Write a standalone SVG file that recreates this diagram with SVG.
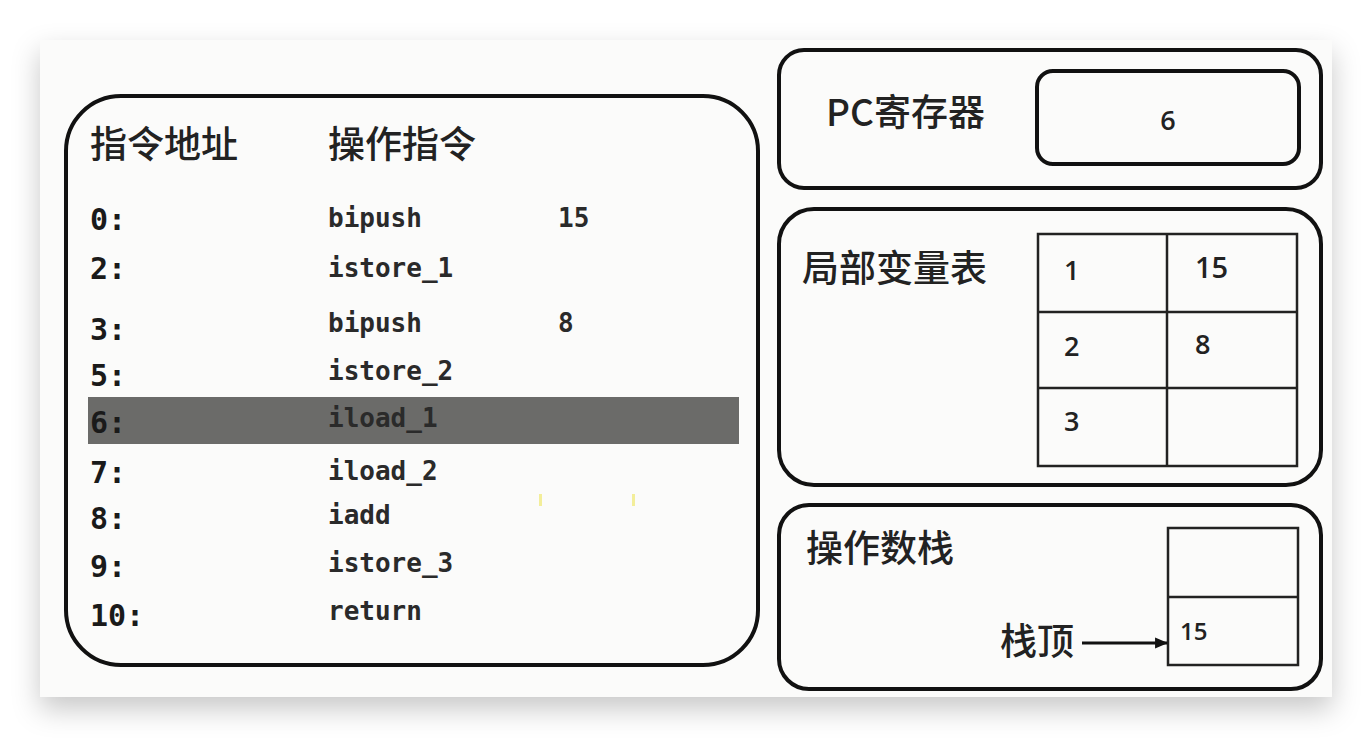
<svg xmlns="http://www.w3.org/2000/svg" width="1372" height="738" viewBox="0 0 1372 738">
  <defs>
    <filter id="shadow" x="-10%" y="-10%" width="120%" height="130%">
      <feDropShadow dx="0" dy="12" stdDeviation="14" flood-color="#000" flood-opacity="0.22"/>
    </filter>
    <marker id="arrow" viewBox="0 0 12 12" refX="11" refY="6" markerWidth="13" markerHeight="13" markerUnits="userSpaceOnUse" orient="auto">
      <path d="M0,1 L12,6 L0,11 Z" fill="#111"/>
    </marker>
  </defs>
  <style>
    .box { fill: none; stroke: #111; stroke-width: 4; }
    .cell { fill: none; stroke: #222; stroke-width: 2.5; }
    .cjk { font-family: "Noto Sans CJK SC", "Noto Sans", sans-serif; font-size: 37px; font-weight: 500; fill: #222; }
    .addr { font-family: "DejaVu Sans Mono", "Liberation Mono", monospace; font-size: 30px; font-weight: bold; fill: #1a1a1a; }
    .ins { font-family: "DejaVu Sans Mono", "Liberation Mono", monospace; font-size: 26px; font-weight: bold; fill: #2a2a2a; }
    .num { font-family: "Open Sans", "Liberation Sans", sans-serif; font-size: 27px; font-weight: 600; fill: #222; }
  </style>
  <rect x="0" y="0" width="1372" height="738" fill="#ffffff"/>
  <rect x="40" y="40" width="1292" height="657" fill="#fbfbfa" filter="url(#shadow)"/>

  <g id="code">
    <rect class="box" x="66" y="96" width="692" height="569" rx="55" ry="55"/>
    <rect x="88" y="397" width="651" height="47" fill="#6b6b69"/>
    <text class="cjk" x="90" y="158">指令地址</text>
    <text class="cjk" x="328" y="158">操作指令</text>
    <g class="addr">
      <text x="90" y="230">0:</text>
      <text x="90" y="279">2:</text>
      <text x="90" y="340">3:</text>
      <text x="90" y="386">5:</text>
      <text x="90" y="433">6:</text>
      <text x="90" y="483">7:</text>
      <text x="90" y="529">8:</text>
      <text x="90" y="577">9:</text>
      <text x="90" y="626">10:</text>
    </g>
    <g class="ins">
      <text x="328" y="227">bipush</text>
      <text x="328" y="277">istore_1</text>
      <text x="328" y="332">bipush</text>
      <text x="328" y="380">istore_2</text>
      <text x="328" y="427">iload_1</text>
      <text x="328" y="480">iload_2</text>
      <text x="328" y="524">iadd</text>
      <text x="328" y="572">istore_3</text>
      <text x="328" y="620">return</text>
      <text x="558" y="227">15</text>
      <text x="558" y="332">8</text>
    </g>
    <rect x="539" y="494" width="3" height="12" fill="#f3ee9a"/>
    <rect x="632" y="494" width="3" height="12" fill="#f3ee9a"/>
  </g>

  <g id="pc">
    <rect class="box" x="779" y="50" width="542" height="138" rx="25" ry="25"/>
    <text class="cjk" x="826" y="126">PC寄存器</text>
    <rect class="box" x="1037" y="71" width="262" height="93" rx="16" ry="16"/>
    <text class="num" x="1168" y="130" text-anchor="middle">6</text>
  </g>

  <g id="locals">
    <rect class="box" x="779" y="209" width="542" height="276" rx="35" ry="35"/>
    <text class="cjk" x="802" y="282">局部变量表</text>
    <rect class="cell" x="1038" y="234" width="259" height="232"/>
    <line class="cell" x1="1167" y1="234" x2="1167" y2="466"/>
    <line class="cell" x1="1038" y1="312" x2="1297" y2="312"/>
    <line class="cell" x1="1038" y1="388" x2="1297" y2="388"/>
    <text class="num" x="1064" y="280">1</text>
    <text class="num" x="1195" y="278" style="font-size:29px">15</text>
    <text class="num" x="1064" y="356">2</text>
    <text class="num" x="1195" y="354">8</text>
    <text class="num" x="1064" y="431">3</text>
  </g>

  <g id="stack">
    <rect class="box" x="779" y="505" width="542" height="184" rx="30" ry="30"/>
    <text class="cjk" x="806" y="562">操作数栈</text>
    <rect class="cell" x="1168" y="528" width="130" height="137"/>
    <line class="cell" x1="1168" y1="597" x2="1298" y2="597"/>
    <text class="num" x="1180" y="640" style="font-size:24px">15</text>
    <text class="cjk" x="1000" y="655">栈顶</text>
  </g>

  <g id="connectors">
    <line x1="1082" y1="643" x2="1167" y2="643" stroke="#111" stroke-width="3" marker-end="url(#arrow)"/>
  </g>
</svg>
